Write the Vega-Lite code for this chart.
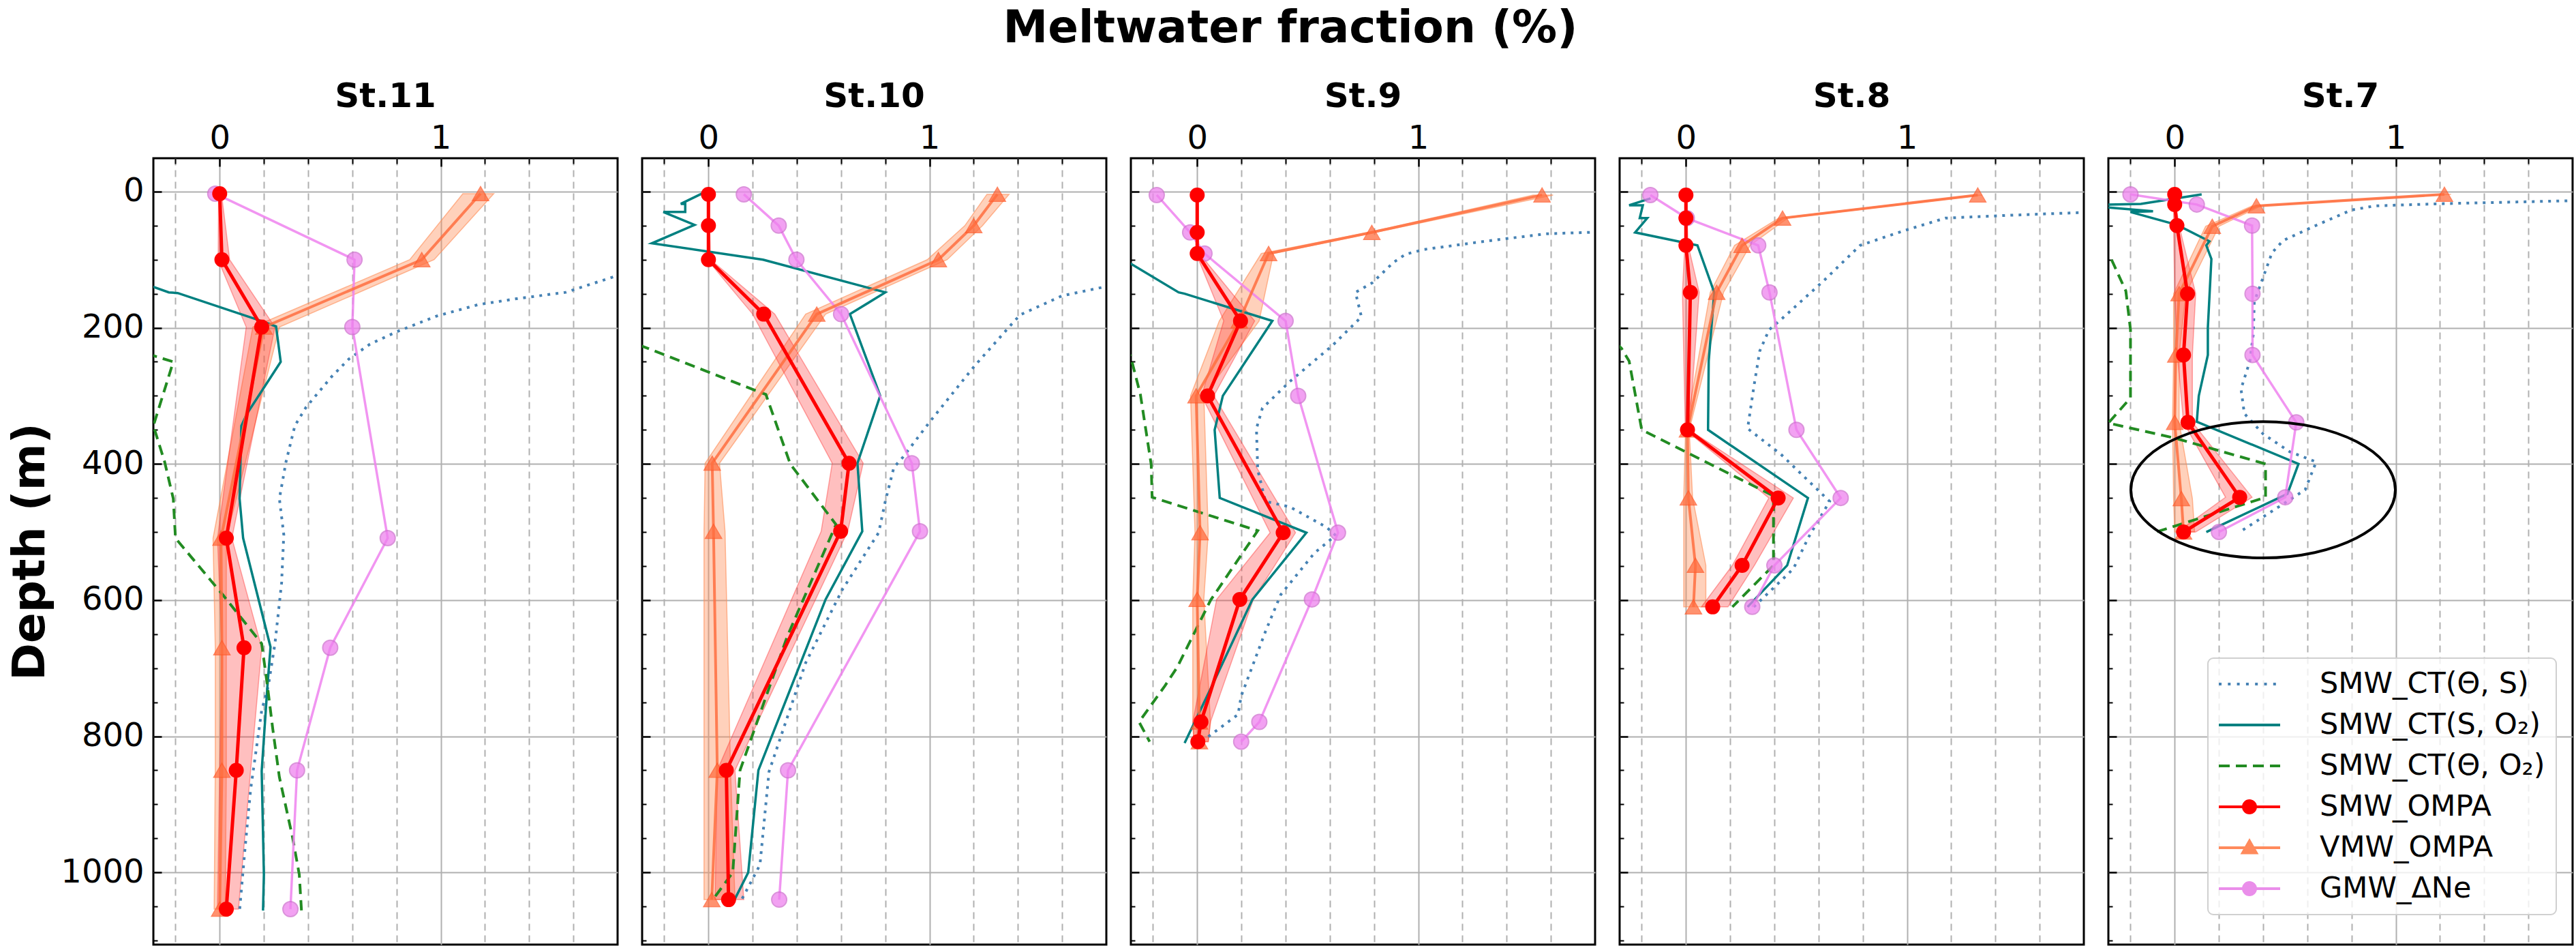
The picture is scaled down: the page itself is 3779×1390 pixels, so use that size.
{
  "$schema": "https://vega.github.io/schema/vega-lite/v6.json",
  "description": "Meltwater fraction profiles at stations 11 to 7.",
  "padding": {"left": 10, "top": 8, "right": 5, "bottom": 5},
  "title": {"text": "Meltwater fraction (%)", "fontSize": 66, "offset": 40, "anchor": "middle"},
  "datasets": {
    "prof": [
      {"st": 11, "s": "TS", "x": 1.85, "d": 118}, {"st": 11, "s": "TS", "x": 1.565, "d": 148}, {"st": 11, "s": "TS", "x": 1.35, "d": 157}, {"st": 11, "s": "TS", "x": 1.17, "d": 166}, {"st": 11, "s": "TS", "x": 0.98, "d": 183}, {"st": 11, "s": "TS", "x": 0.8, "d": 206}, {"st": 11, "s": "TS", "x": 0.68, "d": 224}, {"st": 11, "s": "TS", "x": 0.584, "d": 246}, {"st": 11, "s": "TS", "x": 0.506, "d": 272}, {"st": 11, "s": "TS", "x": 0.39, "d": 317}, {"st": 11, "s": "TS", "x": 0.34, "d": 344}, {"st": 11, "s": "TS", "x": 0.3, "d": 397}, {"st": 11, "s": "TS", "x": 0.27, "d": 451}, {"st": 11, "s": "TS", "x": 0.29, "d": 504}, {"st": 11, "s": "TS", "x": 0.28, "d": 575}, {"st": 11, "s": "TS", "x": 0.25, "d": 664}, {"st": 11, "s": "TS", "x": 0.22, "d": 726}, {"st": 11, "s": "TS", "x": 0.19, "d": 762}, {"st": 11, "s": "TS", "x": 0.14, "d": 878}, {"st": 11, "s": "TS", "x": 0.114, "d": 967}, {"st": 11, "s": "TS", "x": 0.09, "d": 1056},
      {"st": 11, "s": "SO", "x": -0.45, "d": 125}, {"st": 11, "s": "SO", "x": -0.3, "d": 140}, {"st": 11, "s": "SO", "x": -0.23, "d": 148}, {"st": 11, "s": "SO", "x": -0.19, "d": 149}, {"st": 11, "s": "SO", "x": 0.17, "d": 188}, {"st": 11, "s": "SO", "x": 0.255, "d": 198}, {"st": 11, "s": "SO", "x": 0.276, "d": 250}, {"st": 11, "s": "SO", "x": 0.124, "d": 326}, {"st": 11, "s": "SO", "x": 0.098, "d": 344}, {"st": 11, "s": "SO", "x": 0.09, "d": 451}, {"st": 11, "s": "SO", "x": 0.106, "d": 509}, {"st": 11, "s": "SO", "x": 0.23, "d": 669}, {"st": 11, "s": "SO", "x": 0.216, "d": 726}, {"st": 11, "s": "SO", "x": 0.19, "d": 851}, {"st": 11, "s": "SO", "x": 0.2, "d": 1003}, {"st": 11, "s": "SO", "x": 0.196, "d": 1056},
      {"st": 11, "s": "TO", "x": -0.4, "d": 232}, {"st": 11, "s": "TO", "x": -0.3, "d": 241}, {"st": 11, "s": "TO", "x": -0.21, "d": 250}, {"st": 11, "s": "TO", "x": -0.3, "d": 344}, {"st": 11, "s": "TO", "x": -0.249, "d": 397}, {"st": 11, "s": "TO", "x": -0.21, "d": 451}, {"st": 11, "s": "TO", "x": -0.2, "d": 509}, {"st": 11, "s": "TO", "x": 0.016, "d": 593}, {"st": 11, "s": "TO", "x": 0.19, "d": 664}, {"st": 11, "s": "TO", "x": 0.216, "d": 726}, {"st": 11, "s": "TO", "x": 0.24, "d": 789}, {"st": 11, "s": "TO", "x": 0.27, "d": 860}, {"st": 11, "s": "TO", "x": 0.33, "d": 949}, {"st": 11, "s": "TO", "x": 0.36, "d": 1003}, {"st": 11, "s": "TO", "x": 0.37, "d": 1056},
      {"st": 11, "s": "SMW", "x": 0, "d": 3}, {"st": 11, "s": "SMW", "x": 0.01, "d": 100}, {"st": 11, "s": "SMW", "x": 0.19, "d": 199}, {"st": 11, "s": "SMW", "x": 0.03, "d": 509}, {"st": 11, "s": "SMW", "x": 0.11, "d": 670}, {"st": 11, "s": "SMW", "x": 0.075, "d": 850}, {"st": 11, "s": "SMW", "x": 0.03, "d": 1054},
      {"st": 11, "s": "VMW", "x": 1.18, "d": 3}, {"st": 11, "s": "VMW", "x": 0.914, "d": 100}, {"st": 11, "s": "VMW", "x": 0.2, "d": 199}, {"st": 11, "s": "VMW", "x": 0.006, "d": 509}, {"st": 11, "s": "VMW", "x": 0.01, "d": 670}, {"st": 11, "s": "VMW", "x": 0.01, "d": 850}, {"st": 11, "s": "VMW", "x": 0, "d": 1054},
      {"st": 11, "s": "GMW", "x": -0.02, "d": 3}, {"st": 11, "s": "GMW", "x": 0.61, "d": 100}, {"st": 11, "s": "GMW", "x": 0.6, "d": 199}, {"st": 11, "s": "GMW", "x": 0.76, "d": 509}, {"st": 11, "s": "GMW", "x": 0.5, "d": 670}, {"st": 11, "s": "GMW", "x": 0.35, "d": 850}, {"st": 11, "s": "GMW", "x": 0.32, "d": 1054},

      {"st": 10, "s": "TS", "x": 1.85, "d": 136}, {"st": 10, "s": "TS", "x": 1.6, "d": 153}, {"st": 10, "s": "TS", "x": 1.417, "d": 180}, {"st": 10, "s": "TS", "x": 1.39, "d": 188}, {"st": 10, "s": "TS", "x": 1.204, "d": 256}, {"st": 10, "s": "TS", "x": 1.004, "d": 337}, {"st": 10, "s": "TS", "x": 0.88, "d": 390}, {"st": 10, "s": "TS", "x": 0.839, "d": 405}, {"st": 10, "s": "TS", "x": 0.8, "d": 455}, {"st": 10, "s": "TS", "x": 0.77, "d": 501}, {"st": 10, "s": "TS", "x": 0.605, "d": 585}, {"st": 10, "s": "TS", "x": 0.44, "d": 692}, {"st": 10, "s": "TS", "x": 0.274, "d": 852}, {"st": 10, "s": "TS", "x": 0.233, "d": 989}, {"st": 10, "s": "TS", "x": 0.15, "d": 1040},
      {"st": 10, "s": "SO", "x": -0.03, "d": 3}, {"st": 10, "s": "SO", "x": -0.125, "d": 18}, {"st": 10, "s": "SO", "x": -0.105, "d": 18}, {"st": 10, "s": "SO", "x": -0.105, "d": 30}, {"st": 10, "s": "SO", "x": -0.204, "d": 30}, {"st": 10, "s": "SO", "x": -0.063, "d": 49}, {"st": 10, "s": "SO", "x": -0.256, "d": 76}, {"st": 10, "s": "SO", "x": 0.247, "d": 100}, {"st": 10, "s": "SO", "x": 0.8, "d": 148}, {"st": 10, "s": "SO", "x": 0.64, "d": 180}, {"st": 10, "s": "SO", "x": 0.777, "d": 300}, {"st": 10, "s": "SO", "x": 0.674, "d": 399}, {"st": 10, "s": "SO", "x": 0.696, "d": 499}, {"st": 10, "s": "SO", "x": 0.53, "d": 599}, {"st": 10, "s": "SO", "x": 0.226, "d": 850}, {"st": 10, "s": "SO", "x": 0.18, "d": 1000}, {"st": 10, "s": "SO", "x": 0.118, "d": 1040},
      {"st": 10, "s": "TO", "x": -0.45, "d": 208}, {"st": 10, "s": "TO", "x": 0.26, "d": 298}, {"st": 10, "s": "TO", "x": 0.37, "d": 400}, {"st": 10, "s": "TO", "x": 0.577, "d": 489}, {"st": 10, "s": "TO", "x": 0.357, "d": 653}, {"st": 10, "s": "TO", "x": 0.143, "d": 850}, {"st": 10, "s": "TO", "x": 0.11, "d": 1000}, {"st": 10, "s": "TO", "x": 0.02, "d": 1040},
      {"st": 10, "s": "SMW", "x": 0, "d": 4}, {"st": 10, "s": "SMW", "x": 0, "d": 50}, {"st": 10, "s": "SMW", "x": 0, "d": 100}, {"st": 10, "s": "SMW", "x": 0.25, "d": 180}, {"st": 10, "s": "SMW", "x": 0.636, "d": 399}, {"st": 10, "s": "SMW", "x": 0.598, "d": 499}, {"st": 10, "s": "SMW", "x": 0.081, "d": 850}, {"st": 10, "s": "SMW", "x": 0.091, "d": 1040},
      {"st": 10, "s": "VMW", "x": 1.307, "d": 4}, {"st": 10, "s": "VMW", "x": 1.2, "d": 50}, {"st": 10, "s": "VMW", "x": 1.04, "d": 100}, {"st": 10, "s": "VMW", "x": 0.49, "d": 180}, {"st": 10, "s": "VMW", "x": 0.017, "d": 399}, {"st": 10, "s": "VMW", "x": 0.023, "d": 499}, {"st": 10, "s": "VMW", "x": 0.04, "d": 850}, {"st": 10, "s": "VMW", "x": 0.015, "d": 1040},
      {"st": 10, "s": "GMW", "x": 0.16, "d": 4}, {"st": 10, "s": "GMW", "x": 0.318, "d": 50}, {"st": 10, "s": "GMW", "x": 0.398, "d": 100}, {"st": 10, "s": "GMW", "x": 0.6, "d": 180}, {"st": 10, "s": "GMW", "x": 0.92, "d": 399}, {"st": 10, "s": "GMW", "x": 0.957, "d": 499}, {"st": 10, "s": "GMW", "x": 0.36, "d": 850}, {"st": 10, "s": "GMW", "x": 0.32, "d": 1040},

      {"st": 9, "s": "TS", "x": 1.85, "d": 59}, {"st": 9, "s": "TS", "x": 1.578, "d": 62}, {"st": 9, "s": "TS", "x": 1.302, "d": 73}, {"st": 9, "s": "TS", "x": 1.026, "d": 85}, {"st": 9, "s": "TS", "x": 0.943, "d": 92}, {"st": 9, "s": "TS", "x": 0.888, "d": 104}, {"st": 9, "s": "TS", "x": 0.792, "d": 134}, {"st": 9, "s": "TS", "x": 0.716, "d": 148}, {"st": 9, "s": "TS", "x": 0.743, "d": 184}, {"st": 9, "s": "TS", "x": 0.612, "d": 226}, {"st": 9, "s": "TS", "x": 0.419, "d": 279}, {"st": 9, "s": "TS", "x": 0.295, "d": 318}, {"st": 9, "s": "TS", "x": 0.268, "d": 348}, {"st": 9, "s": "TS", "x": 0.274, "d": 409}, {"st": 9, "s": "TS", "x": 0.309, "d": 455}, {"st": 9, "s": "TS", "x": 0.419, "d": 463}, {"st": 9, "s": "TS", "x": 0.585, "d": 493}, {"st": 9, "s": "TS", "x": 0.626, "d": 505}, {"st": 9, "s": "TS", "x": 0.53, "d": 531}, {"st": 9, "s": "TS", "x": 0.378, "d": 592}, {"st": 9, "s": "TS", "x": 0.309, "d": 646}, {"st": 9, "s": "TS", "x": 0.199, "d": 741}, {"st": 9, "s": "TS", "x": 0.185, "d": 768}, {"st": 9, "s": "TS", "x": 0.061, "d": 798}, {"st": 9, "s": "TS", "x": 0.019, "d": 808},
      {"st": 9, "s": "SO", "x": -0.45, "d": 77}, {"st": 9, "s": "SO", "x": -0.3, "d": 106}, {"st": 9, "s": "SO", "x": -0.084, "d": 148}, {"st": 9, "s": "SO", "x": -0.057, "d": 150}, {"st": 9, "s": "SO", "x": 0.34, "d": 190}, {"st": 9, "s": "SO", "x": 0.116, "d": 300}, {"st": 9, "s": "SO", "x": 0.079, "d": 350}, {"st": 9, "s": "SO", "x": 0.102, "d": 450}, {"st": 9, "s": "SO", "x": 0.494, "d": 501}, {"st": 9, "s": "SO", "x": 0.25, "d": 599}, {"st": 9, "s": "SO", "x": 0.061, "d": 730}, {"st": 9, "s": "SO", "x": -0.057, "d": 810},
      {"st": 9, "s": "TO", "x": -0.33, "d": 230}, {"st": 9, "s": "TO", "x": -0.302, "d": 241}, {"st": 9, "s": "TO", "x": -0.257, "d": 298}, {"st": 9, "s": "TO", "x": -0.208, "d": 401}, {"st": 9, "s": "TO", "x": -0.204, "d": 449}, {"st": 9, "s": "TO", "x": 0.274, "d": 498}, {"st": 9, "s": "TO", "x": 0.061, "d": 600}, {"st": 9, "s": "TO", "x": -0.091, "d": 699}, {"st": 9, "s": "TO", "x": -0.146, "d": 726}, {"st": 9, "s": "TO", "x": -0.263, "d": 779}, {"st": 9, "s": "TO", "x": -0.215, "d": 808},
      {"st": 9, "s": "SMW", "x": 0, "d": 5}, {"st": 9, "s": "SMW", "x": 0, "d": 60}, {"st": 9, "s": "SMW", "x": 0, "d": 91}, {"st": 9, "s": "SMW", "x": 0.196, "d": 190}, {"st": 9, "s": "SMW", "x": 0.047, "d": 300}, {"st": 9, "s": "SMW", "x": 0.389, "d": 501}, {"st": 9, "s": "SMW", "x": 0.193, "d": 599}, {"st": 9, "s": "SMW", "x": 0.017, "d": 779}, {"st": 9, "s": "SMW", "x": 0.003, "d": 808},
      {"st": 9, "s": "VMW", "x": 1.56, "d": 5}, {"st": 9, "s": "VMW", "x": 0.79, "d": 60}, {"st": 9, "s": "VMW", "x": 0.323, "d": 91}, {"st": 9, "s": "VMW", "x": 0.19, "d": 190}, {"st": 9, "s": "VMW", "x": -0.005, "d": 300}, {"st": 9, "s": "VMW", "x": 0.013, "d": 501}, {"st": 9, "s": "VMW", "x": 0, "d": 599}, {"st": 9, "s": "VMW", "x": 0.01, "d": 779}, {"st": 9, "s": "VMW", "x": 0.01, "d": 808},
      {"st": 9, "s": "GMW", "x": -0.183, "d": 5}, {"st": 9, "s": "GMW", "x": -0.032, "d": 60}, {"st": 9, "s": "GMW", "x": 0.033, "d": 91}, {"st": 9, "s": "GMW", "x": 0.4, "d": 190}, {"st": 9, "s": "GMW", "x": 0.457, "d": 300}, {"st": 9, "s": "GMW", "x": 0.637, "d": 501}, {"st": 9, "s": "GMW", "x": 0.519, "d": 599}, {"st": 9, "s": "GMW", "x": 0.281, "d": 779}, {"st": 9, "s": "GMW", "x": 0.199, "d": 808},

      {"st": 8, "s": "TS", "x": 1.85, "d": 30}, {"st": 8, "s": "TS", "x": 1.448, "d": 35}, {"st": 8, "s": "TS", "x": 1.173, "d": 39}, {"st": 8, "s": "TS", "x": 0.981, "d": 58}, {"st": 8, "s": "TS", "x": 0.788, "d": 79}, {"st": 8, "s": "TS", "x": 0.623, "d": 131}, {"st": 8, "s": "TS", "x": 0.43, "d": 188}, {"st": 8, "s": "TS", "x": 0.376, "d": 203}, {"st": 8, "s": "TS", "x": 0.334, "d": 234}, {"st": 8, "s": "TS", "x": 0.307, "d": 287}, {"st": 8, "s": "TS", "x": 0.279, "d": 348}, {"st": 8, "s": "TS", "x": 0.43, "d": 386}, {"st": 8, "s": "TS", "x": 0.65, "d": 455}, {"st": 8, "s": "TS", "x": 0.554, "d": 508}, {"st": 8, "s": "TS", "x": 0.486, "d": 554}, {"st": 8, "s": "TS", "x": 0.307, "d": 610},
      {"st": 8, "s": "SO", "x": -0.16, "d": 10}, {"st": 8, "s": "SO", "x": -0.257, "d": 20}, {"st": 8, "s": "SO", "x": -0.195, "d": 20}, {"st": 8, "s": "SO", "x": -0.209, "d": 39}, {"st": 8, "s": "SO", "x": -0.175, "d": 39}, {"st": 8, "s": "SO", "x": -0.23, "d": 60}, {"st": 8, "s": "SO", "x": 0.052, "d": 79}, {"st": 8, "s": "SO", "x": 0.128, "d": 148}, {"st": 8, "s": "SO", "x": 0.103, "d": 249}, {"st": 8, "s": "SO", "x": 0.1, "d": 350}, {"st": 8, "s": "SO", "x": 0.552, "d": 450}, {"st": 8, "s": "SO", "x": 0.458, "d": 549}, {"st": 8, "s": "SO", "x": 0.279, "d": 610},
      {"st": 8, "s": "TO", "x": -0.32, "d": 222}, {"st": 8, "s": "TO", "x": -0.292, "d": 230}, {"st": 8, "s": "TO", "x": -0.257, "d": 249}, {"st": 8, "s": "TO", "x": -0.2, "d": 350}, {"st": 8, "s": "TO", "x": 0.396, "d": 447}, {"st": 8, "s": "TO", "x": 0.396, "d": 549}, {"st": 8, "s": "TO", "x": 0.21, "d": 610},
      {"st": 8, "s": "SMW", "x": 0, "d": 5}, {"st": 8, "s": "SMW", "x": 0, "d": 39}, {"st": 8, "s": "SMW", "x": 0, "d": 79}, {"st": 8, "s": "SMW", "x": 0.02, "d": 148}, {"st": 8, "s": "SMW", "x": 0.007, "d": 350}, {"st": 8, "s": "SMW", "x": 0.417, "d": 450}, {"st": 8, "s": "SMW", "x": 0.254, "d": 549}, {"st": 8, "s": "SMW", "x": 0.121, "d": 610},
      {"st": 8, "s": "VMW", "x": 1.32, "d": 5}, {"st": 8, "s": "VMW", "x": 0.437, "d": 39}, {"st": 8, "s": "VMW", "x": 0.254, "d": 79}, {"st": 8, "s": "VMW", "x": 0.139, "d": 148}, {"st": 8, "s": "VMW", "x": 0.007, "d": 350}, {"st": 8, "s": "VMW", "x": 0.011, "d": 450}, {"st": 8, "s": "VMW", "x": 0.043, "d": 549}, {"st": 8, "s": "VMW", "x": 0.034, "d": 610},
      {"st": 8, "s": "GMW", "x": -0.161, "d": 5}, {"st": 8, "s": "GMW", "x": 0.004, "d": 39}, {"st": 8, "s": "GMW", "x": 0.327, "d": 79}, {"st": 8, "s": "GMW", "x": 0.378, "d": 148}, {"st": 8, "s": "GMW", "x": 0.5, "d": 350}, {"st": 8, "s": "GMW", "x": 0.7, "d": 450}, {"st": 8, "s": "GMW", "x": 0.4, "d": 549}, {"st": 8, "s": "GMW", "x": 0.3, "d": 610},

      {"st": 7, "s": "TS", "x": 1.85, "d": 13}, {"st": 7, "s": "TS", "x": 1.18, "d": 18}, {"st": 7, "s": "TS", "x": 0.906, "d": 21}, {"st": 7, "s": "TS", "x": 0.8, "d": 27}, {"st": 7, "s": "TS", "x": 0.63, "d": 51}, {"st": 7, "s": "TS", "x": 0.49, "d": 72}, {"st": 7, "s": "TS", "x": 0.44, "d": 90}, {"st": 7, "s": "TS", "x": 0.4, "d": 126}, {"st": 7, "s": "TS", "x": 0.36, "d": 162}, {"st": 7, "s": "TS", "x": 0.356, "d": 208}, {"st": 7, "s": "TS", "x": 0.34, "d": 249}, {"st": 7, "s": "TS", "x": 0.3, "d": 290}, {"st": 7, "s": "TS", "x": 0.315, "d": 326}, {"st": 7, "s": "TS", "x": 0.4, "d": 356}, {"st": 7, "s": "TS", "x": 0.52, "d": 382}, {"st": 7, "s": "TS", "x": 0.64, "d": 397}, {"st": 7, "s": "TS", "x": 0.59, "d": 438}, {"st": 7, "s": "TS", "x": 0.49, "d": 459}, {"st": 7, "s": "TS", "x": 0.294, "d": 500},
      {"st": 7, "s": "SO", "x": 0.122, "d": 4}, {"st": 7, "s": "SO", "x": -0.153, "d": 18}, {"st": 7, "s": "SO", "x": -0.42, "d": 20}, {"st": 7, "s": "SO", "x": -0.098, "d": 29}, {"st": 7, "s": "SO", "x": -0.2, "d": 30}, {"st": 7, "s": "SO", "x": 0.012, "d": 49}, {"st": 7, "s": "SO", "x": 0.157, "d": 73}, {"st": 7, "s": "SO", "x": 0.143, "d": 79}, {"st": 7, "s": "SO", "x": 0.166, "d": 99}, {"st": 7, "s": "SO", "x": 0.15, "d": 200}, {"st": 7, "s": "SO", "x": 0.15, "d": 240}, {"st": 7, "s": "SO", "x": 0.109, "d": 300}, {"st": 7, "s": "SO", "x": 0.1, "d": 338}, {"st": 7, "s": "SO", "x": 0.56, "d": 400}, {"st": 7, "s": "SO", "x": 0.51, "d": 444}, {"st": 7, "s": "SO", "x": 0.143, "d": 500},
      {"st": 7, "s": "TO", "x": -0.35, "d": 90}, {"st": 7, "s": "TO", "x": -0.29, "d": 97}, {"st": 7, "s": "TO", "x": -0.221, "d": 146}, {"st": 7, "s": "TO", "x": -0.2, "d": 203}, {"st": 7, "s": "TO", "x": -0.2, "d": 303}, {"st": 7, "s": "TO", "x": -0.3, "d": 340}, {"st": 7, "s": "TO", "x": 0, "d": 362}, {"st": 7, "s": "TO", "x": 0.411, "d": 400}, {"st": 7, "s": "TO", "x": 0.411, "d": 449}, {"st": 7, "s": "TO", "x": -0.084, "d": 500},
      {"st": 7, "s": "SMW", "x": 0, "d": 4}, {"st": 7, "s": "SMW", "x": 0, "d": 19}, {"st": 7, "s": "SMW", "x": 0.01, "d": 50}, {"st": 7, "s": "SMW", "x": 0.058, "d": 150}, {"st": 7, "s": "SMW", "x": 0.04, "d": 240}, {"st": 7, "s": "SMW", "x": 0.06, "d": 339}, {"st": 7, "s": "SMW", "x": 0.294, "d": 449}, {"st": 7, "s": "SMW", "x": 0.04, "d": 500},
      {"st": 7, "s": "VMW", "x": 1.22, "d": 4}, {"st": 7, "s": "VMW", "x": 0.37, "d": 21}, {"st": 7, "s": "VMW", "x": 0.17, "d": 51}, {"st": 7, "s": "VMW", "x": 0.02, "d": 150}, {"st": 7, "s": "VMW", "x": 0.005, "d": 240}, {"st": 7, "s": "VMW", "x": 0, "d": 339}, {"st": 7, "s": "VMW", "x": 0.03, "d": 451}, {"st": 7, "s": "VMW", "x": 0.04, "d": 500},
      {"st": 7, "s": "GMW", "x": -0.2, "d": 4}, {"st": 7, "s": "GMW", "x": 0.1, "d": 19}, {"st": 7, "s": "GMW", "x": 0.35, "d": 50}, {"st": 7, "s": "GMW", "x": 0.352, "d": 150}, {"st": 7, "s": "GMW", "x": 0.352, "d": 240}, {"st": 7, "s": "GMW", "x": 0.55, "d": 339}, {"st": 7, "s": "GMW", "x": 0.5, "d": 449}, {"st": 7, "s": "GMW", "x": 0.2, "d": 500}
    ],
    "band": [
      {"st": 11, "s": "SMW", "d": 3, "lo": -0.005, "hi": 0.008}, {"st": 11, "s": "SMW", "d": 100, "lo": -0.007, "hi": 0.045}, {"st": 11, "s": "SMW", "d": 199, "lo": 0.12, "hi": 0.25}, {"st": 11, "s": "SMW", "d": 509, "lo": -0.01, "hi": 0.055}, {"st": 11, "s": "SMW", "d": 670, "lo": 0.01, "hi": 0.19}, {"st": 11, "s": "SMW", "d": 850, "lo": 0, "hi": 0.14}, {"st": 11, "s": "SMW", "d": 1054, "lo": -0.01, "hi": 0.085},
      {"st": 11, "s": "VMW", "d": 3, "lo": 1.1, "hi": 1.24}, {"st": 11, "s": "VMW", "d": 100, "lo": 0.86, "hi": 0.97}, {"st": 11, "s": "VMW", "d": 199, "lo": 0.15, "hi": 0.27}, {"st": 11, "s": "VMW", "d": 509, "lo": -0.03, "hi": 0.03}, {"st": 11, "s": "VMW", "d": 670, "lo": -0.02, "hi": 0.03}, {"st": 11, "s": "VMW", "d": 850, "lo": -0.02, "hi": 0.03}, {"st": 11, "s": "VMW", "d": 1054, "lo": -0.025, "hi": 0.025},
      {"st": 10, "s": "SMW", "d": 4, "lo": -0.005, "hi": 0.005}, {"st": 10, "s": "SMW", "d": 50, "lo": -0.005, "hi": 0.005}, {"st": 10, "s": "SMW", "d": 100, "lo": -0.005, "hi": 0.01}, {"st": 10, "s": "SMW", "d": 180, "lo": 0.2, "hi": 0.3}, {"st": 10, "s": "SMW", "d": 399, "lo": 0.56, "hi": 0.7}, {"st": 10, "s": "SMW", "d": 499, "lo": 0.51, "hi": 0.63}, {"st": 10, "s": "SMW", "d": 850, "lo": 0.04, "hi": 0.12}, {"st": 10, "s": "SMW", "d": 1040, "lo": 0.03, "hi": 0.16},
      {"st": 10, "s": "VMW", "d": 4, "lo": 1.26, "hi": 1.36}, {"st": 10, "s": "VMW", "d": 50, "lo": 1.16, "hi": 1.24}, {"st": 10, "s": "VMW", "d": 100, "lo": 0.99, "hi": 1.08}, {"st": 10, "s": "VMW", "d": 180, "lo": 0.44, "hi": 0.53}, {"st": 10, "s": "VMW", "d": 399, "lo": -0.015, "hi": 0.05}, {"st": 10, "s": "VMW", "d": 499, "lo": -0.02, "hi": 0.075}, {"st": 10, "s": "VMW", "d": 850, "lo": -0.02, "hi": 0.1}, {"st": 10, "s": "VMW", "d": 1040, "lo": -0.02, "hi": 0.12},
      {"st": 9, "s": "SMW", "d": 5, "lo": -0.005, "hi": 0.005}, {"st": 9, "s": "SMW", "d": 60, "lo": -0.005, "hi": 0.005}, {"st": 9, "s": "SMW", "d": 91, "lo": -0.005, "hi": 0.01}, {"st": 9, "s": "SMW", "d": 190, "lo": 0.12, "hi": 0.26}, {"st": 9, "s": "SMW", "d": 300, "lo": 0.02, "hi": 0.075}, {"st": 9, "s": "SMW", "d": 501, "lo": 0.33, "hi": 0.445}, {"st": 9, "s": "SMW", "d": 599, "lo": 0.088, "hi": 0.254}, {"st": 9, "s": "SMW", "d": 779, "lo": -0.02, "hi": 0.06}, {"st": 9, "s": "SMW", "d": 808, "lo": -0.015, "hi": 0.05},
      {"st": 9, "s": "VMW", "d": 5, "lo": 1.52, "hi": 1.61}, {"st": 9, "s": "VMW", "d": 60, "lo": 0.775, "hi": 0.805}, {"st": 9, "s": "VMW", "d": 91, "lo": 0.29, "hi": 0.345}, {"st": 9, "s": "VMW", "d": 190, "lo": 0.1, "hi": 0.28}, {"st": 9, "s": "VMW", "d": 300, "lo": -0.03, "hi": 0.03}, {"st": 9, "s": "VMW", "d": 501, "lo": -0.01, "hi": 0.05}, {"st": 9, "s": "VMW", "d": 599, "lo": -0.02, "hi": 0.03}, {"st": 9, "s": "VMW", "d": 779, "lo": -0.02, "hi": 0.06}, {"st": 9, "s": "VMW", "d": 808, "lo": -0.015, "hi": 0.05},
      {"st": 8, "s": "SMW", "d": 5, "lo": -0.005, "hi": 0.005}, {"st": 8, "s": "SMW", "d": 39, "lo": -0.005, "hi": 0.005}, {"st": 8, "s": "SMW", "d": 79, "lo": -0.005, "hi": 0.01}, {"st": 8, "s": "SMW", "d": 148, "lo": -0.016, "hi": 0.06}, {"st": 8, "s": "SMW", "d": 350, "lo": -0.003, "hi": 0.015}, {"st": 8, "s": "SMW", "d": 450, "lo": 0.375, "hi": 0.486}, {"st": 8, "s": "SMW", "d": 549, "lo": 0.21, "hi": 0.31}, {"st": 8, "s": "SMW", "d": 610, "lo": 0.07, "hi": 0.19},
      {"st": 8, "s": "VMW", "d": 5, "lo": 1.3, "hi": 1.34}, {"st": 8, "s": "VMW", "d": 39, "lo": 0.42, "hi": 0.46}, {"st": 8, "s": "VMW", "d": 79, "lo": 0.22, "hi": 0.29}, {"st": 8, "s": "VMW", "d": 148, "lo": 0.11, "hi": 0.17}, {"st": 8, "s": "VMW", "d": 350, "lo": -0.002, "hi": 0.015}, {"st": 8, "s": "VMW", "d": 450, "lo": -0.01, "hi": 0.03}, {"st": 8, "s": "VMW", "d": 549, "lo": -0.01, "hi": 0.09}, {"st": 8, "s": "VMW", "d": 610, "lo": -0.01, "hi": 0.09},
      {"st": 7, "s": "SMW", "d": 4, "lo": -0.005, "hi": 0.005}, {"st": 7, "s": "SMW", "d": 19, "lo": -0.005, "hi": 0.005}, {"st": 7, "s": "SMW", "d": 50, "lo": -0.005, "hi": 0.02}, {"st": 7, "s": "SMW", "d": 150, "lo": 0, "hi": 0.095}, {"st": 7, "s": "SMW", "d": 240, "lo": 0.012, "hi": 0.08}, {"st": 7, "s": "SMW", "d": 339, "lo": 0.04, "hi": 0.08}, {"st": 7, "s": "SMW", "d": 449, "lo": 0.23, "hi": 0.35}, {"st": 7, "s": "SMW", "d": 500, "lo": 0.012, "hi": 0.095},
      {"st": 7, "s": "VMW", "d": 4, "lo": 1.2, "hi": 1.25}, {"st": 7, "s": "VMW", "d": 21, "lo": 0.35, "hi": 0.39}, {"st": 7, "s": "VMW", "d": 51, "lo": 0.14, "hi": 0.2}, {"st": 7, "s": "VMW", "d": 150, "lo": -0.005, "hi": 0.05}, {"st": 7, "s": "VMW", "d": 240, "lo": -0.005, "hi": 0.02}, {"st": 7, "s": "VMW", "d": 339, "lo": -0.01, "hi": 0.02}, {"st": 7, "s": "VMW", "d": 451, "lo": -0.005, "hi": 0.08}, {"st": 7, "s": "VMW", "d": 500, "lo": 0, "hi": 0.09}
    ],
    "ell": [{"x": 0.4, "d": 438}],
    "leg": [
      {"name": "SMW_CT(Θ, S)"}, {"name": "SMW_CT(S, O₂)"}, {"name": "SMW_CT(Θ, O₂)"},
      {"name": "SMW_OMPA"}, {"name": "VMW_OMPA"}, {"name": "GMW_ΔNe"}
    ]
  },
  "spacing": 31,
  "hconcat": [
    {
      "title": "St.11", "width": 681, "height": 1153,
      "layer": [
        {"data": {"name": "band"}, "transform": [{"filter": "datum.st == 11 && datum.s == 'VMW'"}],
         "mark": {"type": "area", "orient": "horizontal", "fill": "#ff8c55", "fillOpacity": 0.4, "stroke": "#ff8c55", "strokeOpacity": 0.6, "strokeWidth": 1.5, "clip": true},
         "encoding": {
           "y": {"field": "d", "type": "quantitative", "scale": {"domain": [-49, 1106], "reverse": true, "nice": false, "zero": false},
                 "axis": {"orient": "left", "title": "Depth (m)", "titleFontSize": 66, "titleFontWeight": "bold", "titlePadding": 10,
                          "values": [0, 50, 100, 150, 200, 250, 300, 350, 400, 450, 500, 550, 600, 650, 700, 750, 800, 850, 900, 950, 1000, 1050, 1100],
                          "format": "d", "labelExpr": "datum.value % 200 == 0 ? datum.label : ''", "labelPadding": 26,
                          "tickSize": {"condition": {"test": "datum.value % 200 == 0", "value": -12}, "value": -6},
                          "tickWidth": {"condition": {"test": "datum.value % 200 == 0", "value": 2.5}, "value": 2},
                          "gridOpacity": {"condition": {"test": "datum.value % 200 == 0", "value": 1}, "value": 0}}},
           "x": {"field": "lo", "type": "quantitative", "scale": {"domain": [-0.3, 1.8], "nice": false, "zero": false},
                 "axis": {"orient": "top", "title": null, "values": [-0.2, 0, 0.2, 0.4, 0.6, 0.8, 1, 1.2, 1.4, 1.6],
                          "labelExpr": "datum.value == 0 ? '0' : datum.value == 1 ? '1' : ''", "labelPadding": 17,
                          "tickSize": {"condition": {"test": "datum.value == 0 || datum.value == 1", "value": -12}, "value": -8},
                          "tickWidth": {"condition": {"test": "datum.value == 0 || datum.value == 1", "value": 2.5}, "value": 2},
                          "gridDash": {"condition": {"test": "datum.value == 0 || datum.value == 1", "value": [1, 0]}, "value": [10, 7]}}},
           "x2": {"field": "hi"}}},
        {"data": {"name": "band"}, "transform": [{"filter": "datum.st == 11 && datum.s == 'SMW'"}],
         "mark": {"type": "area", "orient": "horizontal", "fill": "#ff2a2a", "fillOpacity": 0.3, "stroke": "#ff2a2a", "strokeOpacity": 0.4, "strokeWidth": 1.5, "clip": true},
         "encoding": {"y": {"field": "d", "type": "quantitative"}, "x": {"field": "lo", "type": "quantitative"}, "x2": {"field": "hi"}}},
        {"data": {"name": "prof"}, "transform": [{"filter": "datum.st == 11 && datum.s == 'TS'"}],
         "mark": {"type": "line", "stroke": "#4682b4", "strokeWidth": 4, "strokeDash": [4, 8], "clip": true},
         "encoding": {"x": {"field": "x", "type": "quantitative"}, "y": {"field": "d", "type": "quantitative"}, "order": {"value": null}}},
        {"data": {"name": "prof"}, "transform": [{"filter": "datum.st == 11 && datum.s == 'SO'"}],
         "mark": {"type": "line", "stroke": "#008080", "strokeWidth": 3.5, "clip": true},
         "encoding": {"x": {"field": "x", "type": "quantitative"}, "y": {"field": "d", "type": "quantitative"}, "order": {"value": null}}},
        {"data": {"name": "prof"}, "transform": [{"filter": "datum.st == 11 && datum.s == 'TO'"}],
         "mark": {"type": "line", "stroke": "#228b22", "strokeWidth": 4, "strokeDash": [15, 9], "clip": true},
         "encoding": {"x": {"field": "x", "type": "quantitative"}, "y": {"field": "d", "type": "quantitative"}, "order": {"value": null}}},
        {"data": {"name": "prof"}, "transform": [{"filter": "datum.st == 11 && datum.s == 'GMW'"}],
         "mark": {"type": "line", "stroke": "#ee82ee", "strokeWidth": 3.5, "opacity": 0.85, "clip": true},
         "encoding": {"x": {"field": "x", "type": "quantitative"}, "y": {"field": "d", "type": "quantitative"}, "order": {"value": null}}},
        {"data": {"name": "prof"}, "transform": [{"filter": "datum.st == 11 && datum.s == 'GMW'"}],
         "mark": {"type": "point", "shape": "circle", "size": 484, "filled": true, "fill": "#ee82ee", "opacity": 0.75, "stroke": "#d070d0", "strokeWidth": 2, "clip": true},
         "encoding": {"x": {"field": "x", "type": "quantitative"}, "y": {"field": "d", "type": "quantitative"}}},
        {"data": {"name": "prof"}, "transform": [{"filter": "datum.st == 11 && datum.s == 'VMW'"}],
         "mark": {"type": "line", "stroke": "#ff6e40", "strokeWidth": 4, "opacity": 0.85, "clip": true},
         "encoding": {"x": {"field": "x", "type": "quantitative"}, "y": {"field": "d", "type": "quantitative"}, "order": {"value": null}}},
        {"data": {"name": "prof"}, "transform": [{"filter": "datum.st == 11 && datum.s == 'VMW'"}],
         "mark": {"type": "point", "shape": "triangle-up", "size": 576, "filled": true, "fill": "#ff6e40", "opacity": 0.75, "stroke": "#ff5a2a", "strokeWidth": 1.5, "clip": true},
         "encoding": {"x": {"field": "x", "type": "quantitative"}, "y": {"field": "d", "type": "quantitative"}}},
        {"data": {"name": "prof"}, "transform": [{"filter": "datum.st == 11 && datum.s == 'SMW'"}],
         "mark": {"type": "line", "stroke": "#ff0000", "strokeWidth": 5, "clip": true},
         "encoding": {"x": {"field": "x", "type": "quantitative"}, "y": {"field": "d", "type": "quantitative"}, "order": {"value": null}}},
        {"data": {"name": "prof"}, "transform": [{"filter": "datum.st == 11 && datum.s == 'SMW'"}],
         "mark": {"type": "point", "shape": "circle", "size": 484, "filled": true, "fill": "#ff0000", "opacity": 1, "clip": true},
         "encoding": {"x": {"field": "x", "type": "quantitative"}, "y": {"field": "d", "type": "quantitative"}}}
      ]
    },
    {
      "title": "St.10", "width": 681, "height": 1153,
      "layer": [
        {"data": {"name": "band"}, "transform": [{"filter": "datum.st == 10 && datum.s == 'VMW'"}],
         "mark": {"type": "area", "orient": "horizontal", "fill": "#ff8c55", "fillOpacity": 0.4, "stroke": "#ff8c55", "strokeOpacity": 0.6, "strokeWidth": 1.5, "clip": true},
         "encoding": {
           "y": {"field": "d", "type": "quantitative", "scale": {"domain": [-49, 1106], "reverse": true, "nice": false, "zero": false},
                 "axis": {"orient": "left", "title": null, "labels": false,
                          "values": [0, 50, 100, 150, 200, 250, 300, 350, 400, 450, 500, 550, 600, 650, 700, 750, 800, 850, 900, 950, 1000, 1050, 1100],
                          "tickSize": {"condition": {"test": "datum.value % 200 == 0", "value": -12}, "value": -6},
                          "tickWidth": {"condition": {"test": "datum.value % 200 == 0", "value": 2.5}, "value": 2},
                          "gridOpacity": {"condition": {"test": "datum.value % 200 == 0", "value": 1}, "value": 0}}},
           "x": {"field": "lo", "type": "quantitative", "scale": {"domain": [-0.3, 1.8], "nice": false, "zero": false},
                 "axis": {"orient": "top", "title": null, "values": [-0.2, 0, 0.2, 0.4, 0.6, 0.8, 1, 1.2, 1.4, 1.6],
                          "labelExpr": "datum.value == 0 ? '0' : datum.value == 1 ? '1' : ''", "labelPadding": 17,
                          "tickSize": {"condition": {"test": "datum.value == 0 || datum.value == 1", "value": -12}, "value": -8},
                          "tickWidth": {"condition": {"test": "datum.value == 0 || datum.value == 1", "value": 2.5}, "value": 2},
                          "gridDash": {"condition": {"test": "datum.value == 0 || datum.value == 1", "value": [1, 0]}, "value": [10, 7]}}},
           "x2": {"field": "hi"}}},
        {"data": {"name": "band"}, "transform": [{"filter": "datum.st == 10 && datum.s == 'SMW'"}],
         "mark": {"type": "area", "orient": "horizontal", "fill": "#ff2a2a", "fillOpacity": 0.3, "stroke": "#ff2a2a", "strokeOpacity": 0.4, "strokeWidth": 1.5, "clip": true},
         "encoding": {"y": {"field": "d", "type": "quantitative"}, "x": {"field": "lo", "type": "quantitative"}, "x2": {"field": "hi"}}},
        {"data": {"name": "prof"}, "transform": [{"filter": "datum.st == 10 && datum.s == 'TS'"}],
         "mark": {"type": "line", "stroke": "#4682b4", "strokeWidth": 4, "strokeDash": [4, 8], "clip": true},
         "encoding": {"x": {"field": "x", "type": "quantitative"}, "y": {"field": "d", "type": "quantitative"}, "order": {"value": null}}},
        {"data": {"name": "prof"}, "transform": [{"filter": "datum.st == 10 && datum.s == 'SO'"}],
         "mark": {"type": "line", "stroke": "#008080", "strokeWidth": 3.5, "clip": true},
         "encoding": {"x": {"field": "x", "type": "quantitative"}, "y": {"field": "d", "type": "quantitative"}, "order": {"value": null}}},
        {"data": {"name": "prof"}, "transform": [{"filter": "datum.st == 10 && datum.s == 'TO'"}],
         "mark": {"type": "line", "stroke": "#228b22", "strokeWidth": 4, "strokeDash": [15, 9], "clip": true},
         "encoding": {"x": {"field": "x", "type": "quantitative"}, "y": {"field": "d", "type": "quantitative"}, "order": {"value": null}}},
        {"data": {"name": "prof"}, "transform": [{"filter": "datum.st == 10 && datum.s == 'GMW'"}],
         "mark": {"type": "line", "stroke": "#ee82ee", "strokeWidth": 3.5, "opacity": 0.85, "clip": true},
         "encoding": {"x": {"field": "x", "type": "quantitative"}, "y": {"field": "d", "type": "quantitative"}, "order": {"value": null}}},
        {"data": {"name": "prof"}, "transform": [{"filter": "datum.st == 10 && datum.s == 'GMW'"}],
         "mark": {"type": "point", "shape": "circle", "size": 484, "filled": true, "fill": "#ee82ee", "opacity": 0.75, "stroke": "#d070d0", "strokeWidth": 2, "clip": true},
         "encoding": {"x": {"field": "x", "type": "quantitative"}, "y": {"field": "d", "type": "quantitative"}}},
        {"data": {"name": "prof"}, "transform": [{"filter": "datum.st == 10 && datum.s == 'VMW'"}],
         "mark": {"type": "line", "stroke": "#ff6e40", "strokeWidth": 4, "opacity": 0.85, "clip": true},
         "encoding": {"x": {"field": "x", "type": "quantitative"}, "y": {"field": "d", "type": "quantitative"}, "order": {"value": null}}},
        {"data": {"name": "prof"}, "transform": [{"filter": "datum.st == 10 && datum.s == 'VMW'"}],
         "mark": {"type": "point", "shape": "triangle-up", "size": 576, "filled": true, "fill": "#ff6e40", "opacity": 0.75, "stroke": "#ff5a2a", "strokeWidth": 1.5, "clip": true},
         "encoding": {"x": {"field": "x", "type": "quantitative"}, "y": {"field": "d", "type": "quantitative"}}},
        {"data": {"name": "prof"}, "transform": [{"filter": "datum.st == 10 && datum.s == 'SMW'"}],
         "mark": {"type": "line", "stroke": "#ff0000", "strokeWidth": 5, "clip": true},
         "encoding": {"x": {"field": "x", "type": "quantitative"}, "y": {"field": "d", "type": "quantitative"}, "order": {"value": null}}},
        {"data": {"name": "prof"}, "transform": [{"filter": "datum.st == 10 && datum.s == 'SMW'"}],
         "mark": {"type": "point", "shape": "circle", "size": 484, "filled": true, "fill": "#ff0000", "opacity": 1, "clip": true},
         "encoding": {"x": {"field": "x", "type": "quantitative"}, "y": {"field": "d", "type": "quantitative"}}}
      ]
    },
    {
      "title": "St.9", "width": 681, "height": 1153,
      "layer": [
        {"data": {"name": "band"}, "transform": [{"filter": "datum.st == 9 && datum.s == 'VMW'"}],
         "mark": {"type": "area", "orient": "horizontal", "fill": "#ff8c55", "fillOpacity": 0.4, "stroke": "#ff8c55", "strokeOpacity": 0.6, "strokeWidth": 1.5, "clip": true},
         "encoding": {
           "y": {"field": "d", "type": "quantitative", "scale": {"domain": [-49, 1106], "reverse": true, "nice": false, "zero": false},
                 "axis": {"orient": "left", "title": null, "labels": false,
                          "values": [0, 50, 100, 150, 200, 250, 300, 350, 400, 450, 500, 550, 600, 650, 700, 750, 800, 850, 900, 950, 1000, 1050, 1100],
                          "tickSize": {"condition": {"test": "datum.value % 200 == 0", "value": -12}, "value": -6},
                          "tickWidth": {"condition": {"test": "datum.value % 200 == 0", "value": 2.5}, "value": 2},
                          "gridOpacity": {"condition": {"test": "datum.value % 200 == 0", "value": 1}, "value": 0}}},
           "x": {"field": "lo", "type": "quantitative", "scale": {"domain": [-0.3, 1.8], "nice": false, "zero": false},
                 "axis": {"orient": "top", "title": null, "values": [-0.2, 0, 0.2, 0.4, 0.6, 0.8, 1, 1.2, 1.4, 1.6],
                          "labelExpr": "datum.value == 0 ? '0' : datum.value == 1 ? '1' : ''", "labelPadding": 17,
                          "tickSize": {"condition": {"test": "datum.value == 0 || datum.value == 1", "value": -12}, "value": -8},
                          "tickWidth": {"condition": {"test": "datum.value == 0 || datum.value == 1", "value": 2.5}, "value": 2},
                          "gridDash": {"condition": {"test": "datum.value == 0 || datum.value == 1", "value": [1, 0]}, "value": [10, 7]}}},
           "x2": {"field": "hi"}}},
        {"data": {"name": "band"}, "transform": [{"filter": "datum.st == 9 && datum.s == 'SMW'"}],
         "mark": {"type": "area", "orient": "horizontal", "fill": "#ff2a2a", "fillOpacity": 0.3, "stroke": "#ff2a2a", "strokeOpacity": 0.4, "strokeWidth": 1.5, "clip": true},
         "encoding": {"y": {"field": "d", "type": "quantitative"}, "x": {"field": "lo", "type": "quantitative"}, "x2": {"field": "hi"}}},
        {"data": {"name": "prof"}, "transform": [{"filter": "datum.st == 9 && datum.s == 'TS'"}],
         "mark": {"type": "line", "stroke": "#4682b4", "strokeWidth": 4, "strokeDash": [4, 8], "clip": true},
         "encoding": {"x": {"field": "x", "type": "quantitative"}, "y": {"field": "d", "type": "quantitative"}, "order": {"value": null}}},
        {"data": {"name": "prof"}, "transform": [{"filter": "datum.st == 9 && datum.s == 'SO'"}],
         "mark": {"type": "line", "stroke": "#008080", "strokeWidth": 3.5, "clip": true},
         "encoding": {"x": {"field": "x", "type": "quantitative"}, "y": {"field": "d", "type": "quantitative"}, "order": {"value": null}}},
        {"data": {"name": "prof"}, "transform": [{"filter": "datum.st == 9 && datum.s == 'TO'"}],
         "mark": {"type": "line", "stroke": "#228b22", "strokeWidth": 4, "strokeDash": [15, 9], "clip": true},
         "encoding": {"x": {"field": "x", "type": "quantitative"}, "y": {"field": "d", "type": "quantitative"}, "order": {"value": null}}},
        {"data": {"name": "prof"}, "transform": [{"filter": "datum.st == 9 && datum.s == 'GMW'"}],
         "mark": {"type": "line", "stroke": "#ee82ee", "strokeWidth": 3.5, "opacity": 0.85, "clip": true},
         "encoding": {"x": {"field": "x", "type": "quantitative"}, "y": {"field": "d", "type": "quantitative"}, "order": {"value": null}}},
        {"data": {"name": "prof"}, "transform": [{"filter": "datum.st == 9 && datum.s == 'GMW'"}],
         "mark": {"type": "point", "shape": "circle", "size": 484, "filled": true, "fill": "#ee82ee", "opacity": 0.75, "stroke": "#d070d0", "strokeWidth": 2, "clip": true},
         "encoding": {"x": {"field": "x", "type": "quantitative"}, "y": {"field": "d", "type": "quantitative"}}},
        {"data": {"name": "prof"}, "transform": [{"filter": "datum.st == 9 && datum.s == 'VMW'"}],
         "mark": {"type": "line", "stroke": "#ff6e40", "strokeWidth": 4, "opacity": 0.85, "clip": true},
         "encoding": {"x": {"field": "x", "type": "quantitative"}, "y": {"field": "d", "type": "quantitative"}, "order": {"value": null}}},
        {"data": {"name": "prof"}, "transform": [{"filter": "datum.st == 9 && datum.s == 'VMW'"}],
         "mark": {"type": "point", "shape": "triangle-up", "size": 576, "filled": true, "fill": "#ff6e40", "opacity": 0.75, "stroke": "#ff5a2a", "strokeWidth": 1.5, "clip": true},
         "encoding": {"x": {"field": "x", "type": "quantitative"}, "y": {"field": "d", "type": "quantitative"}}},
        {"data": {"name": "prof"}, "transform": [{"filter": "datum.st == 9 && datum.s == 'SMW'"}],
         "mark": {"type": "line", "stroke": "#ff0000", "strokeWidth": 5, "clip": true},
         "encoding": {"x": {"field": "x", "type": "quantitative"}, "y": {"field": "d", "type": "quantitative"}, "order": {"value": null}}},
        {"data": {"name": "prof"}, "transform": [{"filter": "datum.st == 9 && datum.s == 'SMW'"}],
         "mark": {"type": "point", "shape": "circle", "size": 484, "filled": true, "fill": "#ff0000", "opacity": 1, "clip": true},
         "encoding": {"x": {"field": "x", "type": "quantitative"}, "y": {"field": "d", "type": "quantitative"}}}
      ]
    },
    {
      "title": "St.8", "width": 681, "height": 1153,
      "layer": [
        {"data": {"name": "band"}, "transform": [{"filter": "datum.st == 8 && datum.s == 'VMW'"}],
         "mark": {"type": "area", "orient": "horizontal", "fill": "#ff8c55", "fillOpacity": 0.4, "stroke": "#ff8c55", "strokeOpacity": 0.6, "strokeWidth": 1.5, "clip": true},
         "encoding": {
           "y": {"field": "d", "type": "quantitative", "scale": {"domain": [-49, 1106], "reverse": true, "nice": false, "zero": false},
                 "axis": {"orient": "left", "title": null, "labels": false,
                          "values": [0, 50, 100, 150, 200, 250, 300, 350, 400, 450, 500, 550, 600, 650, 700, 750, 800, 850, 900, 950, 1000, 1050, 1100],
                          "tickSize": {"condition": {"test": "datum.value % 200 == 0", "value": -12}, "value": -6},
                          "tickWidth": {"condition": {"test": "datum.value % 200 == 0", "value": 2.5}, "value": 2},
                          "gridOpacity": {"condition": {"test": "datum.value % 200 == 0", "value": 1}, "value": 0}}},
           "x": {"field": "lo", "type": "quantitative", "scale": {"domain": [-0.3, 1.8], "nice": false, "zero": false},
                 "axis": {"orient": "top", "title": null, "values": [-0.2, 0, 0.2, 0.4, 0.6, 0.8, 1, 1.2, 1.4, 1.6],
                          "labelExpr": "datum.value == 0 ? '0' : datum.value == 1 ? '1' : ''", "labelPadding": 17,
                          "tickSize": {"condition": {"test": "datum.value == 0 || datum.value == 1", "value": -12}, "value": -8},
                          "tickWidth": {"condition": {"test": "datum.value == 0 || datum.value == 1", "value": 2.5}, "value": 2},
                          "gridDash": {"condition": {"test": "datum.value == 0 || datum.value == 1", "value": [1, 0]}, "value": [10, 7]}}},
           "x2": {"field": "hi"}}},
        {"data": {"name": "band"}, "transform": [{"filter": "datum.st == 8 && datum.s == 'SMW'"}],
         "mark": {"type": "area", "orient": "horizontal", "fill": "#ff2a2a", "fillOpacity": 0.3, "stroke": "#ff2a2a", "strokeOpacity": 0.4, "strokeWidth": 1.5, "clip": true},
         "encoding": {"y": {"field": "d", "type": "quantitative"}, "x": {"field": "lo", "type": "quantitative"}, "x2": {"field": "hi"}}},
        {"data": {"name": "prof"}, "transform": [{"filter": "datum.st == 8 && datum.s == 'TS'"}],
         "mark": {"type": "line", "stroke": "#4682b4", "strokeWidth": 4, "strokeDash": [4, 8], "clip": true},
         "encoding": {"x": {"field": "x", "type": "quantitative"}, "y": {"field": "d", "type": "quantitative"}, "order": {"value": null}}},
        {"data": {"name": "prof"}, "transform": [{"filter": "datum.st == 8 && datum.s == 'SO'"}],
         "mark": {"type": "line", "stroke": "#008080", "strokeWidth": 3.5, "clip": true},
         "encoding": {"x": {"field": "x", "type": "quantitative"}, "y": {"field": "d", "type": "quantitative"}, "order": {"value": null}}},
        {"data": {"name": "prof"}, "transform": [{"filter": "datum.st == 8 && datum.s == 'TO'"}],
         "mark": {"type": "line", "stroke": "#228b22", "strokeWidth": 4, "strokeDash": [15, 9], "clip": true},
         "encoding": {"x": {"field": "x", "type": "quantitative"}, "y": {"field": "d", "type": "quantitative"}, "order": {"value": null}}},
        {"data": {"name": "prof"}, "transform": [{"filter": "datum.st == 8 && datum.s == 'GMW'"}],
         "mark": {"type": "line", "stroke": "#ee82ee", "strokeWidth": 3.5, "opacity": 0.85, "clip": true},
         "encoding": {"x": {"field": "x", "type": "quantitative"}, "y": {"field": "d", "type": "quantitative"}, "order": {"value": null}}},
        {"data": {"name": "prof"}, "transform": [{"filter": "datum.st == 8 && datum.s == 'GMW'"}],
         "mark": {"type": "point", "shape": "circle", "size": 484, "filled": true, "fill": "#ee82ee", "opacity": 0.75, "stroke": "#d070d0", "strokeWidth": 2, "clip": true},
         "encoding": {"x": {"field": "x", "type": "quantitative"}, "y": {"field": "d", "type": "quantitative"}}},
        {"data": {"name": "prof"}, "transform": [{"filter": "datum.st == 8 && datum.s == 'VMW'"}],
         "mark": {"type": "line", "stroke": "#ff6e40", "strokeWidth": 4, "opacity": 0.85, "clip": true},
         "encoding": {"x": {"field": "x", "type": "quantitative"}, "y": {"field": "d", "type": "quantitative"}, "order": {"value": null}}},
        {"data": {"name": "prof"}, "transform": [{"filter": "datum.st == 8 && datum.s == 'VMW'"}],
         "mark": {"type": "point", "shape": "triangle-up", "size": 576, "filled": true, "fill": "#ff6e40", "opacity": 0.75, "stroke": "#ff5a2a", "strokeWidth": 1.5, "clip": true},
         "encoding": {"x": {"field": "x", "type": "quantitative"}, "y": {"field": "d", "type": "quantitative"}}},
        {"data": {"name": "prof"}, "transform": [{"filter": "datum.st == 8 && datum.s == 'SMW'"}],
         "mark": {"type": "line", "stroke": "#ff0000", "strokeWidth": 5, "clip": true},
         "encoding": {"x": {"field": "x", "type": "quantitative"}, "y": {"field": "d", "type": "quantitative"}, "order": {"value": null}}},
        {"data": {"name": "prof"}, "transform": [{"filter": "datum.st == 8 && datum.s == 'SMW'"}],
         "mark": {"type": "point", "shape": "circle", "size": 484, "filled": true, "fill": "#ff0000", "opacity": 1, "clip": true},
         "encoding": {"x": {"field": "x", "type": "quantitative"}, "y": {"field": "d", "type": "quantitative"}}}
      ]
    },
    {
      "title": "St.7", "width": 681, "height": 1153,
      "layer": [
        {"data": {"name": "band"}, "transform": [{"filter": "datum.st == 7 && datum.s == 'VMW'"}],
         "mark": {"type": "area", "orient": "horizontal", "fill": "#ff8c55", "fillOpacity": 0.4, "stroke": "#ff8c55", "strokeOpacity": 0.6, "strokeWidth": 1.5, "clip": true},
         "encoding": {
           "y": {"field": "d", "type": "quantitative", "scale": {"domain": [-49, 1106], "reverse": true, "nice": false, "zero": false},
                 "axis": {"orient": "left", "title": null, "labels": false,
                          "values": [0, 50, 100, 150, 200, 250, 300, 350, 400, 450, 500, 550, 600, 650, 700, 750, 800, 850, 900, 950, 1000, 1050, 1100],
                          "tickSize": {"condition": {"test": "datum.value % 200 == 0", "value": -12}, "value": -6},
                          "tickWidth": {"condition": {"test": "datum.value % 200 == 0", "value": 2.5}, "value": 2},
                          "gridOpacity": {"condition": {"test": "datum.value % 200 == 0", "value": 1}, "value": 0}}},
           "x": {"field": "lo", "type": "quantitative", "scale": {"domain": [-0.3, 1.8], "nice": false, "zero": false},
                 "axis": {"orient": "top", "title": null, "values": [-0.2, 0, 0.2, 0.4, 0.6, 0.8, 1, 1.2, 1.4, 1.6],
                          "labelExpr": "datum.value == 0 ? '0' : datum.value == 1 ? '1' : ''", "labelPadding": 17,
                          "tickSize": {"condition": {"test": "datum.value == 0 || datum.value == 1", "value": -12}, "value": -8},
                          "tickWidth": {"condition": {"test": "datum.value == 0 || datum.value == 1", "value": 2.5}, "value": 2},
                          "gridDash": {"condition": {"test": "datum.value == 0 || datum.value == 1", "value": [1, 0]}, "value": [10, 7]}}},
           "x2": {"field": "hi"}}},
        {"data": {"name": "band"}, "transform": [{"filter": "datum.st == 7 && datum.s == 'SMW'"}],
         "mark": {"type": "area", "orient": "horizontal", "fill": "#ff2a2a", "fillOpacity": 0.3, "stroke": "#ff2a2a", "strokeOpacity": 0.4, "strokeWidth": 1.5, "clip": true},
         "encoding": {"y": {"field": "d", "type": "quantitative"}, "x": {"field": "lo", "type": "quantitative"}, "x2": {"field": "hi"}}},
        {"data": {"name": "prof"}, "transform": [{"filter": "datum.st == 7 && datum.s == 'TS'"}],
         "mark": {"type": "line", "stroke": "#4682b4", "strokeWidth": 4, "strokeDash": [4, 8], "clip": true},
         "encoding": {"x": {"field": "x", "type": "quantitative"}, "y": {"field": "d", "type": "quantitative"}, "order": {"value": null}}},
        {"data": {"name": "prof"}, "transform": [{"filter": "datum.st == 7 && datum.s == 'SO'"}],
         "mark": {"type": "line", "stroke": "#008080", "strokeWidth": 3.5, "clip": true},
         "encoding": {"x": {"field": "x", "type": "quantitative"}, "y": {"field": "d", "type": "quantitative"}, "order": {"value": null}}},
        {"data": {"name": "prof"}, "transform": [{"filter": "datum.st == 7 && datum.s == 'TO'"}],
         "mark": {"type": "line", "stroke": "#228b22", "strokeWidth": 4, "strokeDash": [15, 9], "clip": true},
         "encoding": {"x": {"field": "x", "type": "quantitative"}, "y": {"field": "d", "type": "quantitative"}, "order": {"value": null}}},
        {"data": {"name": "prof"}, "transform": [{"filter": "datum.st == 7 && datum.s == 'GMW'"}],
         "mark": {"type": "line", "stroke": "#ee82ee", "strokeWidth": 3.5, "opacity": 0.85, "clip": true},
         "encoding": {"x": {"field": "x", "type": "quantitative"}, "y": {"field": "d", "type": "quantitative"}, "order": {"value": null}}},
        {"data": {"name": "prof"}, "transform": [{"filter": "datum.st == 7 && datum.s == 'GMW'"}],
         "mark": {"type": "point", "shape": "circle", "size": 484, "filled": true, "fill": "#ee82ee", "opacity": 0.75, "stroke": "#d070d0", "strokeWidth": 2, "clip": true},
         "encoding": {"x": {"field": "x", "type": "quantitative"}, "y": {"field": "d", "type": "quantitative"}}},
        {"data": {"name": "prof"}, "transform": [{"filter": "datum.st == 7 && datum.s == 'VMW'"}],
         "mark": {"type": "line", "stroke": "#ff6e40", "strokeWidth": 4, "opacity": 0.85, "clip": true},
         "encoding": {"x": {"field": "x", "type": "quantitative"}, "y": {"field": "d", "type": "quantitative"}, "order": {"value": null}}},
        {"data": {"name": "prof"}, "transform": [{"filter": "datum.st == 7 && datum.s == 'VMW'"}],
         "mark": {"type": "point", "shape": "triangle-up", "size": 576, "filled": true, "fill": "#ff6e40", "opacity": 0.75, "stroke": "#ff5a2a", "strokeWidth": 1.5, "clip": true},
         "encoding": {"x": {"field": "x", "type": "quantitative"}, "y": {"field": "d", "type": "quantitative"}}},
        {"data": {"name": "prof"}, "transform": [{"filter": "datum.st == 7 && datum.s == 'SMW'"}],
         "mark": {"type": "line", "stroke": "#ff0000", "strokeWidth": 5, "clip": true},
         "encoding": {"x": {"field": "x", "type": "quantitative"}, "y": {"field": "d", "type": "quantitative"}, "order": {"value": null}}},
        {"data": {"name": "prof"}, "transform": [{"filter": "datum.st == 7 && datum.s == 'SMW'"}],
         "mark": {"type": "point", "shape": "circle", "size": 484, "filled": true, "fill": "#ff0000", "opacity": 1, "clip": true},
         "encoding": {"x": {"field": "x", "type": "quantitative"}, "y": {"field": "d", "type": "quantitative"}}},
        {"data": {"name": "ell"},
         "mark": {"type": "point", "shape": "M 1 0 C 1 0.284 0.552 0.515 0 0.515 C -0.552 0.515 -1 0.284 -1 0 C -1 -0.284 -0.552 -0.515 0 -0.515 C 0.552 -0.515 1 -0.284 1 0 Z", "size": 150544, "filled": false, "stroke": "black", "strokeWidth": 4, "opacity": 1},
         "encoding": {"x": {"field": "x", "type": "quantitative"}, "y": {"field": "d", "type": "quantitative"}}},
        {"data": {"name": "leg"}, "transform": [{"filter": "false"}],
         "mark": {"type": "point", "filled": true, "opacity": 1},
         "encoding": {
           "fill": {"field": "name", "type": "nominal", "title": null,
                    "scale": {"domain": ["SMW_CT(Θ, S)", "SMW_CT(S, O₂)", "SMW_CT(Θ, O₂)", "SMW_OMPA", "VMW_OMPA", "GMW_ΔNe"],
                              "range": ["#4682b4", "#008080", "#228b22", "#ff0000", "#ff8a5c", "#ea8eea"]}},
           "stroke": {"field": "name", "type": "nominal", "title": null,
                      "scale": {"domain": ["SMW_CT(Θ, S)", "SMW_CT(S, O₂)", "SMW_CT(Θ, O₂)", "SMW_OMPA", "VMW_OMPA", "GMW_ΔNe"],
                                "range": ["#4682b4", "#008080", "#228b22", "#ff0000", "#ff8a5c", "#ea8eea"]}},
           "shape": {"field": "name", "type": "nominal", "title": null,
                     "scale": {"domain": ["SMW_CT(Θ, S)", "SMW_CT(S, O₂)", "SMW_CT(Θ, O₂)", "SMW_OMPA", "VMW_OMPA", "GMW_ΔNe"],
                               "range": [
                                 "M -2.25 0 L -2.05 0 M -1.585 0 L -1.385 0 M -0.92 0 L -0.72 0 M -0.255 0 L -0.055 0 M 0.41 0 L 0.61 0 M 1.075 0 L 1.275 0 M 1.74 0 L 1.94 0",
                                 "M -2.25 0 L 2.25 0",
                                 "M -2.25 0 L -1.45 0 M -1 0 L -0.2 0 M 0.25 0 L 1.05 0 M 1.5 0 L 2.25 0",
                                 "M -2.25 0 L 2.25 0 M -0.45 0 A 0.45 0.45 0 1 0 0.45 0 A 0.45 0.45 0 1 0 -0.45 0 Z",
                                 "M -2.25 0 L 2.25 0 M 0 -0.5 L 0.5 0.38 L -0.5 0.38 Z",
                                 "M -2.25 0 L 2.25 0 M -0.45 0 A 0.45 0.45 0 1 0 0.45 0 A 0.45 0.45 0 1 0 -0.45 0 Z"
                               ]}}}}
      ]
    }
  ],
  "config": {
    "font": "DejaVu Sans",
    "view": {"stroke": "black", "strokeWidth": 3},
    "axis": {
      "labelFont": "DejaVu Sans", "labelFontSize": 48, "labelColor": "black",
      "titleFont": "DejaVu Sans", "titleColor": "black",
      "tickColor": "black", "domain": false,
      "grid": true, "gridColor": "#b0b0b0", "gridWidth": 2,
      "labelOverlap": false, "labelFlush": false, "labelBound": false
    },
    "title": {"font": "DejaVu Sans", "fontSize": 50, "fontWeight": "bold", "color": "black", "offset": 8},
    "legend": {
      "orient": "none", "legendX": 3014, "legendY": 733,
      "labelFont": "DejaVu Sans", "labelFontSize": 43, "labelColor": "black", "labelLimit": 600,
      "symbolSize": 1600, "symbolStrokeWidth": 4, "symbolOffset": 23, "labelOffset": 81,
      "rowPadding": 16, "padding": 16,
      "strokeColor": "#d0d0d0", "strokeWidth": 2, "fillColor": "rgba(255,255,255,0.8)", "cornerRadius": 8
    }
  }
}
